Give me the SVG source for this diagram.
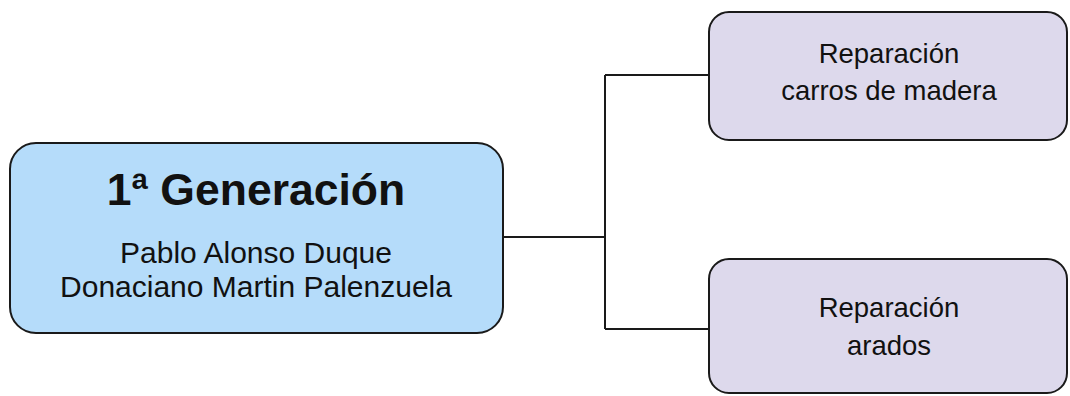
<svg xmlns="http://www.w3.org/2000/svg" width="1070" height="396" viewBox="0 0 1070 396">
  <style>
    .box { stroke: #1a1a1a; stroke-width: 2; }
    .root { fill: #b5dcfa; }
    .leaf { fill: #ddd9ec; }
    .link { fill: none; stroke: #1a1a1a; stroke-width: 2; }
    text { font-family: "Liberation Sans", Arial, sans-serif; fill: #111; text-anchor: middle; }
    .title { font-size: 44.5px; font-weight: bold; }
    .sub { font-size: 30px; }
    .leaf-text { font-size: 27.5px; }
  </style>
  <rect width="1070" height="396" fill="#ffffff"/>

  <g id="connectors">
    <path class="link" d="M503,237 H605"/>
    <path class="link" d="M605,75 V329"/>
    <path class="link" d="M605,75 H709"/>
    <path class="link" d="M605,329 H709"/>
  </g>

  <g id="node-generacion">
    <rect class="box root" x="10" y="143" width="493" height="190" rx="26" ry="26"/>
    <text class="title" x="256" y="205">1ª Generación</text>
    <text class="sub" x="256" y="263">Pablo Alonso Duque</text>
    <text class="sub" x="256" y="297">Donaciano Martin Palenzuela</text>
  </g>

  <g id="node-carros">
    <rect class="box leaf" x="709" y="12" width="358" height="128" rx="20" ry="20"/>
    <text class="leaf-text" x="889" y="63">Reparación</text>
    <text class="leaf-text" x="889" y="100">carros de madera</text>
  </g>

  <g id="node-arados">
    <rect class="box leaf" x="709" y="259" width="358" height="134" rx="20" ry="20"/>
    <text class="leaf-text" x="889" y="317">Reparación</text>
    <text class="leaf-text" x="889" y="355">arados</text>
  </g>
</svg>
